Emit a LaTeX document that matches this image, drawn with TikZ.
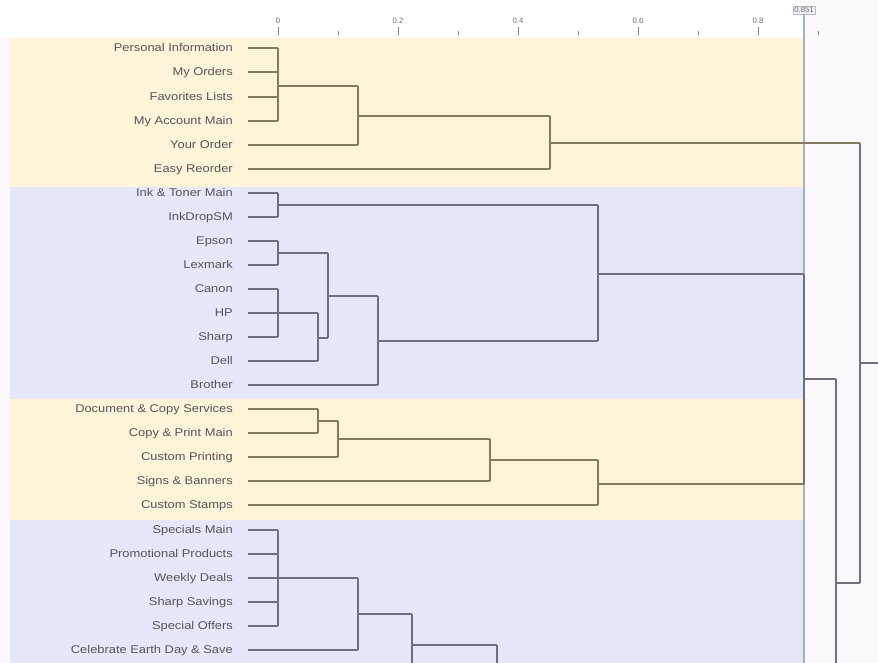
\documentclass[tikz,border=0pt]{standalone}
\usepackage{fontspec}
\setmainfont{Liberation Sans}
\newfontfamily\lblfont[FakeStretch=1.15]{Liberation Sans}
\definecolor{bgc}{HTML}{FBF9FC}
\definecolor{ylw}{HTML}{FDF4DA}
\definecolor{blu}{HTML}{E7E7FA}
\definecolor{ylline}{HTML}{857A5E}
\definecolor{blline}{HTML}{6E7082}
\definecolor{txt}{HTML}{555555}
\definecolor{cut}{HTML}{A8B0C8}
\begin{document}
\begin{tikzpicture}[x=0.75pt,y=-0.75pt,
  lbl/.style={anchor=base east,inner sep=0pt,font=\lblfont\fontsize{8.4}{9}\selectfont,text=txt},
  axl/.style={inner sep=0pt,font=\fontsize{5.8}{6}\selectfont,text=txt!85},
  yl/.style={draw=ylline,line width=0.9pt},
  bl/.style={draw=blline,line width=0.9pt},
  tick/.style={draw=txt!70,line width=0.5pt}]
\useasboundingbox (0,0) rectangle (878,663);
\fill[bgc] (0,0) rectangle (878,663);
\fill[white] (0,0) rectangle (804,38);
% bands
\fill[ylw] (10,38) rectangle (804,187);
\fill[blu] (10,187) rectangle (804,399);
\fill[ylw] (10,399) rectangle (804,520);
\fill[blu] (10,520) rectangle (804,663);
% cutoff line
\node[axl,draw=txt!40,fill=blu!60,inner sep=1pt] (cutlbl) at (804,10) {0.851};
\coordinate (cutbot) at (804,663);
\draw[cut,line width=0.8pt] (cutlbl.south) -- (cutbot);
% axis
\foreach \v/\x in {0/278,0.2/398,0.4/518,0.6/638,0.8/758}{
  \node[axl] (ax\x) at (\x,21) {\v};
  \draw[tick] (\x,27) -- (\x,35);}
\foreach \x in {338,458,578,698,818}{\draw[tick] (\x,31) -- (\x,35);}
% labels and leaf starts
\foreach \i/\y/\t in {
 1/48/Personal Information, 2/72/My Orders, 3/97/Favorites Lists, 4/121/My Account Main,
 5/145/Your Order, 6/169/Easy Reorder, 7/193/Ink \& Toner Main, 8/217/InkDropSM,
 9/241/Epson, 10/265/Lexmark, 11/289/Canon, 12/313/HP, 13/337/Sharp, 14/361/Dell,
 15/385/Brother, 16/409/Document \& Copy Services, 17/433/Copy \& Print Main,
 18/457/Custom Printing, 19/481/Signs \& Banners, 20/505/Custom Stamps,
 21/530/Specials Main, 22/554/Promotional Products, 23/578/Weekly Deals,
 24/602/Sharp Savings, 25/626/Special Offers, 26/650/Celebrate Earth Day \& Save}{
  \node[lbl] (n\i) at (233,\y+3.8) {\t};
  \coordinate (s\i) at (248,\y);}
% ---- group A
\coordinate (a1) at (278,86);
\coordinate (a2) at (358,116);
\coordinate (a3) at (550,143);
\coordinate (top) at (860,363);
\foreach \i in {1,2,3,4}{\draw[yl] (s\i) -- (s\i -| a1);}
\draw[yl] (a1 |- s1) -- (a1 |- s4);
\draw[yl] (a1) -- (a1 -| a2);
\draw[yl] (s5) -- (s5 -| a2);
\draw[yl] (a2 |- a1) -- (a2 |- s5);
\draw[yl] (a2) -- (a2 -| a3);
\draw[yl] (s6) -- (s6 -| a3);
\draw[yl] (a3 |- a2) -- (a3 |- s6);
\draw[yl] (a3) -- (a3 -| top);
% ---- group B
\coordinate (b1) at (278,205);
\coordinate (b2) at (278,253);
\coordinate (b3) at (278,313);
\coordinate (b4) at (318,338);
\coordinate (b5) at (328,296);
\coordinate (b6) at (378,341);
\coordinate (b7) at (598,274);
\foreach \i in {7,8}{\draw[bl] (s\i) -- (s\i -| b1);}
\draw[bl] (b1 |- s7) -- (b1 |- s8);
\foreach \i in {9,10}{\draw[bl] (s\i) -- (s\i -| b2);}
\draw[bl] (b2 |- s9) -- (b2 |- s10);
\foreach \i in {11,12,13}{\draw[bl] (s\i) -- (s\i -| b3);}
\draw[bl] (b3 |- s11) -- (b3 |- s13);
\draw[bl] (b3) -- (b3 -| b4);
\draw[bl] (s14) -- (s14 -| b4);
\draw[bl] (b4 |- b3) -- (b4 |- s14);
\draw[bl] (b2) -- (b2 -| b5);
\draw[bl] (b4) -- (b4 -| b5);
\draw[bl] (b5 |- b2) -- (b5 |- b4);
\draw[bl] (b5) -- (b5 -| b6);
\draw[bl] (s15) -- (s15 -| b6);
\draw[bl] (b6 |- b5) -- (b6 |- s15);
\draw[bl] (b1) -- (b1 -| b7);
\draw[bl] (b6) -- (b6 -| b7);
\draw[bl] (b7 |- b1) -- (b7 |- b6);
% ---- group C
\coordinate (c1) at (318,421);
\coordinate (c2) at (338,439);
\coordinate (c3) at (490,460);
\coordinate (c4) at (598,484);
\foreach \i in {16,17}{\draw[yl] (s\i) -- (s\i -| c1);}
\draw[yl] (c1 |- s16) -- (c1 |- s17);
\draw[yl] (c1) -- (c1 -| c2);
\draw[yl] (s18) -- (s18 -| c2);
\draw[yl] (c2 |- c1) -- (c2 |- s18);
\draw[yl] (c2) -- (c2 -| c3);
\draw[yl] (s19) -- (s19 -| c3);
\draw[yl] (c3 |- c2) -- (c3 |- s19);
\draw[yl] (c3) -- (c3 -| c4);
\draw[yl] (s20) -- (s20 -| c4);
\draw[yl] (c4 |- c3) -- (c4 |- s20);
% ---- upper join
\coordinate (x1) at (804,379);
\coordinate (x2) at (836,583);
\coordinate (x2bot) at (836,663);
\draw[bl] (b7) -- (b7 -| x1);
\draw[yl] (c4) -- (c4 -| x1);
\draw[bl] (x1 |- b7) -- (x1 |- c4);
\draw[bl] (x1) -- (x1 -| x2);
\draw[bl] (x2 |- x1) -- (x2bot);
\draw[bl] (x2) -- (x2 -| top);
\draw[bl] (top |- a3) -- (top |- x2);
\coordinate (edge) at (878,363);
\draw[bl] (top) -- (edge);
% ---- group D
\coordinate (d1) at (278,578);
\coordinate (d2) at (358,614);
\coordinate (d3) at (412,645);
\coordinate (d4) at (497,663);
\foreach \i in {21,22,23,24,25}{\draw[bl] (s\i) -- (s\i -| d1);}
\draw[bl] (d1 |- s21) -- (d1 |- s25);
\draw[bl] (d1) -- (d1 -| d2);
\draw[bl] (s26) -- (s26 -| d2);
\draw[bl] (d2 |- d1) -- (d2 |- s26);
\draw[bl] (d2) -- (d2 -| d3);
\draw[bl] (d3 |- d2) -- (d3 |- d4);
\draw[bl] (d3) -- (d3 -| d4);
\draw[bl] (d4 |- d3) -- (d4);
\end{tikzpicture}
\end{document}
